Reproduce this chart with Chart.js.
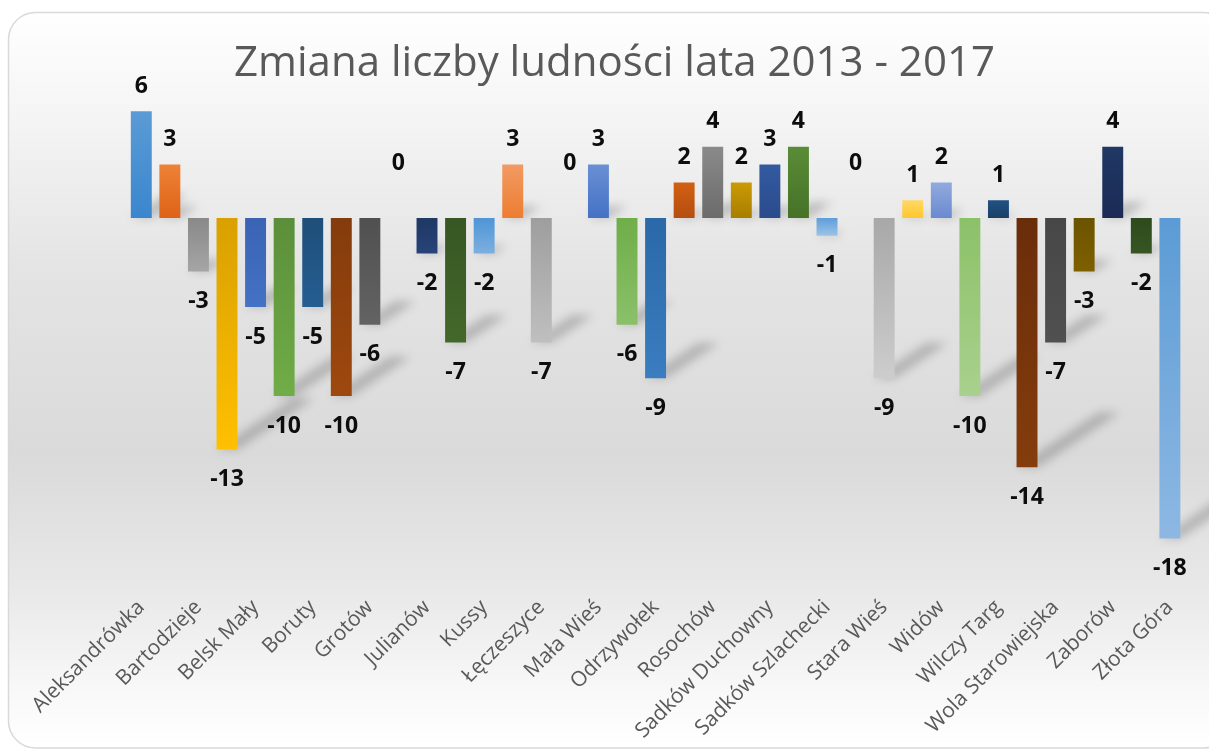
<!DOCTYPE html>
<html>
<head>
<meta charset="utf-8">
<script src="https://cdn.jsdelivr.net/npm/chart.js@4.4.1/dist/chart.umd.min.js"></script>
<style>
html,body{margin:0;padding:0;background:#ffffff;}
#wrap{width:1209px;height:751px;position:relative;}
canvas{display:block;}
</style>
</head>
<body>
<div id="wrap"><canvas id="c" width="1209" height="751"></canvas></div>
<script>
// ---- data ----
const TITLE = 'Zmiana liczby ludności lata 2013 - 2017';
// names shown on the axis (every second category is labelled in the original)
const shownNames = ['Aleksandrówka','Bartodzieje','Belsk Mały','Boruty','Grotów','Julianów','Kussy','Łęczeszyce','Mała Wieś','Odrzywołek','Rosochów','Sadków Duchowny','Sadków Szlachecki','Stara Wieś','Widów','Wilczy Targ','Wola Starowiejska','Zaborów','Złota Góra'];
const values = [6,3,-3,-13,-5,-10,-5,-10,-6,0,-2,-7,-2,3,-7,0,3,-6,-9,2,4,2,3,4,-1,0,-9,1,2,-10,1,-14,-7,-3,4,-2,-18];
const categories = values.map((v, i) => (i % 2 === 0 ? shownNames[i / 2] : ''));

// ---- styles (colour near the axis, colour at the bar end) ----
const baseColors = ['#3A86CE','#DE6218','#898989','#D9A000','#3A63B4','#5B8E3A','#1F4E79','#843C0C','#505050','#997300','#1F3864','#375623','#4E96D6','#ED7D31','#9E9E9E','#BF9000','#4472C4','#6FAE48','#2A68A8','#B44E10','#6B6B6B','#A87E00','#2A4B8C','#467227','#5D9EDB','#A5A5A5','#A8A8A8','#FFC72C','#6A8AD0','#8CC168','#1A4066','#6A2D0A','#474747','#6B5300','#1B2A55','#2E4A1E','#5B9BD5'];
const tipColors  = ['#5B9BD5','#EE8236','#A5A5A5','#FFC000','#4472C4','#70AD47','#255E91','#9E480E','#636363','#BF9000','#264478','#43682B','#7CAFDF','#F29A62','#BFBFBF','#FFD966','#6A8FD5','#8BC06A','#3A7DC0','#D26012','#8A8A8A','#CC9A06','#335AA1','#5A8C37','#9CC3E7','#C9C9C9','#CDCDCD','#FFD966','#92AADE','#A9D18E','#215183','#843C0C','#505050','#7F6000','#203864','#375623','#8DB8E3'];

function barFill(ctx) {
  const i = ctx.dataIndex;
  const chart = ctx.chart;
  if (!chart.chartArea || ctx.type !== 'data') return baseColors[i];
  const ys = chart.scales.y;
  const y0 = ys.getPixelForValue(0);
  const y1 = ys.getPixelForValue(values[i]);
  if (Math.abs(y1 - y0) < 1) return baseColors[i];
  const g = chart.ctx.createLinearGradient(0, y0, 0, y1);
  g.addColorStop(0, baseColors[i]);
  g.addColorStop(1, tipColors[i]);
  return g;
}

const backgroundPlugin = {
  id: 'bgFrame',
  beforeDraw(chart) {
    const c = chart.ctx;
    c.save();
    c.fillStyle = '#ffffff';
    c.fillRect(0, 0, chart.width, chart.height);
    const x = 8.5, y = 12.5, w = 1230 - 8.5, h = 748 - 12.5, r = 27;
    c.beginPath();
    c.moveTo(x + r, y);
    c.lineTo(x + w - r, y);
    c.arcTo(x + w, y, x + w, y + r, r);
    c.lineTo(x + w, y + h - r);
    c.arcTo(x + w, y + h, x + w - r, y + h, r);
    c.lineTo(x + r, y + h);
    c.arcTo(x, y + h, x, y + h - r, r);
    c.lineTo(x, y + r);
    c.arcTo(x, y, x + r, y, r);
    c.closePath();
    const g = c.createLinearGradient(0, y, 0, y + h);
    g.addColorStop(0, '#FFFFFF');
    g.addColorStop(0.12, '#F6F6F6');
    g.addColorStop(0.35, '#E4E4E4');
    g.addColorStop(0.6, '#DADADA');
    g.addColorStop(0.78, '#E8E8E8');
    g.addColorStop(0.92, '#F8F8F8');
    g.addColorStop(1, '#FFFFFF');
    c.fillStyle = g;
    c.fill();
    c.lineWidth = 1.5;
    c.strokeStyle = '#D9D9D9';
    c.stroke();
    c.restore();
  }
};

const shadowPlugin = {
  id: 'barShadow',
  beforeDatasetsDraw(chart) {
    const c = chart.ctx;
    const meta = chart.getDatasetMeta(0);
    c.save();
    c.filter = 'blur(5px)';
    c.fillStyle = 'rgba(0,0,0,0.2)';
    meta.data.forEach((el) => {
      const top = Math.min(el.y, el.base);
      const bottom = Math.max(el.y, el.base);
      const hgt = bottom - top;
      if (hgt < 1) return;
      const dx = hgt * 0.33, dy = hgt * 0.22;
      const l = el.x - el.width / 2, r = el.x + el.width / 2;
      c.beginPath();
      c.moveTo(l, bottom);
      c.lineTo(r, bottom);
      c.lineTo(r + dx, bottom - dy);
      c.lineTo(l + dx, bottom - dy);
      c.closePath();
      c.fill();
    });
    c.restore();
  }
};

const labelPlugin = {
  id: 'valueLabels',
  afterDatasetsDraw(chart) {
    const c = chart.ctx;
    const meta = chart.getDatasetMeta(0);
    const zero = chart.scales.y.getPixelForValue(0);
    c.save();
    c.font = 'bold 23px "Open Sans"';
    c.fillStyle = '#0D0D0D';
    c.textAlign = 'center';
    c.textBaseline = 'middle';
    meta.data.forEach((el, i) => {
      const v = values[i];
      let ty;
      if (v > 0) ty = el.y - 25;
      else if (v < 0) ty = el.y + 30;
      else ty = zero - 55;
      c.fillText(String(v), el.x, ty);
    });
    c.restore();
  }
};

new Chart(document.getElementById('c'), {
  type: 'bar',
  data: {
    labels: categories,
    datasets: [{
      data: values,
      backgroundColor: barFill,
      borderWidth: 0,
      barPercentage: 0.733,
      categoryPercentage: 1.0
    }]
  },
  options: {
    responsive: false,
    animation: false,
    devicePixelRatio: 1,
    layout: { padding: { left: 42, right: 22, top: 0, bottom: 0 } },
    plugins: {
      legend: { display: false },
      tooltip: { enabled: false },
      title: {
        display: true,
        text: TITLE,
        color: '#595959',
        font: { family: '"Open Sans"', size: 42, weight: 'normal' },
        padding: { top: 39, bottom: 4 }
      }
    },
    scales: {
      x: {
        grid: { display: false, drawTicks: false },
        border: { display: false },
        ticks: {
          autoSkip: false,
          minRotation: 45,
          maxRotation: 45,
          padding: 21,
          color: '#595959',
          font: { family: '"Open Sans"', size: 21 }
        },
        afterFit(s) { s.height = 177; }
      },
      y: {
        min: -20,
        max: 7,
        grid: { display: false, drawTicks: false },
        border: { display: false },
        ticks: { display: false },
        afterFit(s) { s.width = 85; }
      }
    }
  },
  plugins: [backgroundPlugin, shadowPlugin, labelPlugin]
});
</script>
</body>
</html>
